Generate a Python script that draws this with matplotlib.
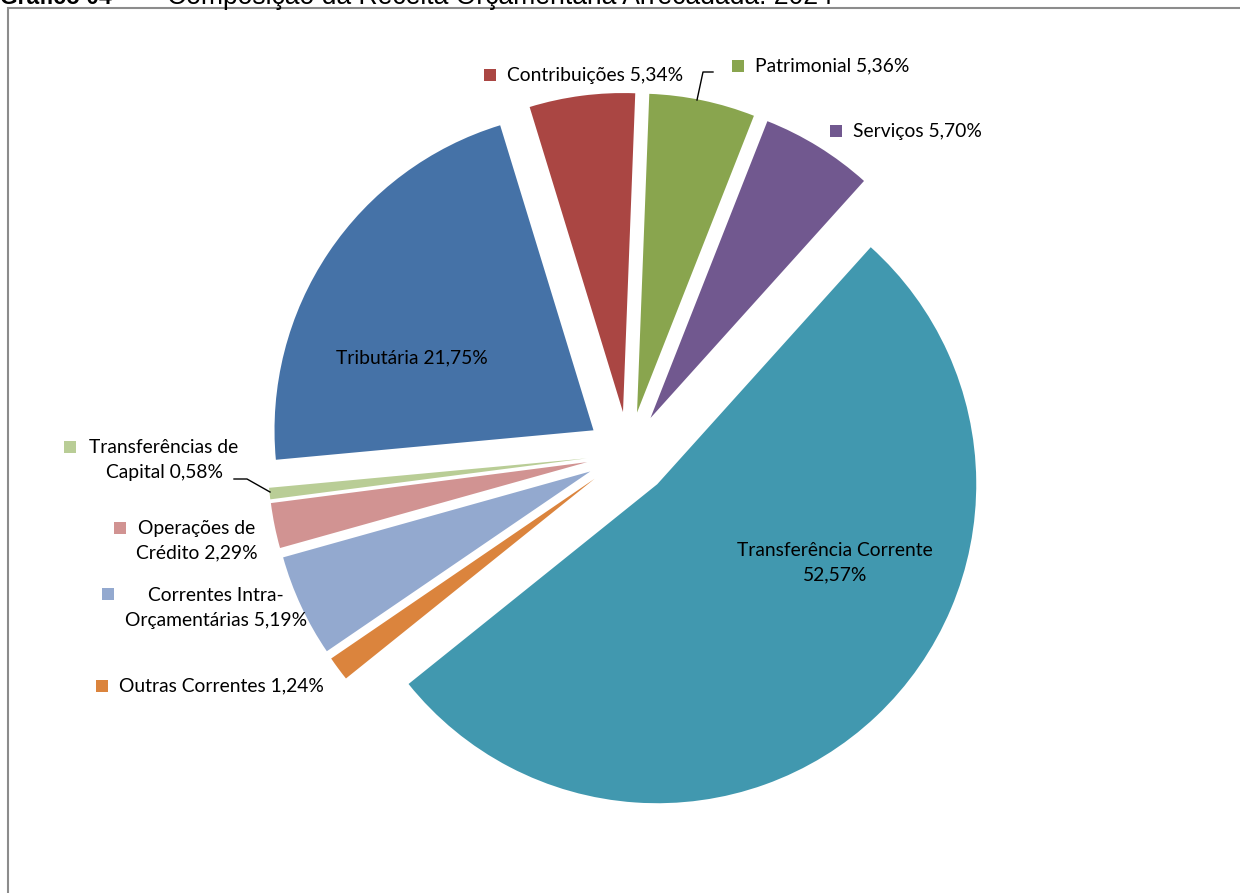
import matplotlib
matplotlib.use("Agg")
import matplotlib.pyplot as plt
from matplotlib.patches import Rectangle
from matplotlib.lines import Line2D

# ---------------- data ----------------
categories = ["Tributária", "Contribuições", "Patrimonial", "Serviços",
              "Transferência Corrente", "Outras Correntes",
              "Correntes Intra-\nOrçamentárias", "Operações de\nCrédito",
              "Transferências de\nCapital"]
values = [21.75, 5.34, 5.36, 5.70, 52.57, 1.24, 5.19, 2.29, 0.58]
colors = ["#4572A7", "#AA4643", "#89A54E", "#71588F", "#4198AF",
          "#DB843D", "#93A9CF", "#D19392", "#B9CD96"]
title_bold = "Gráfico 04 –"
title_rest = "Composição da Receita Orçamentária Arrecadada: 2024"

# ---------------- layout ----------------
W, H, DPI = 1240, 893, 100
CX, CY, R = 628.4, 453.7, 319.0      # pie centre / radius in pixels
EXPLODE = 42.0 / R
FONT = "Lato"
FS = 13.9
LS = 1.55

def P(x, y):
    """pixel (top-left origin) -> data coords (pie centre origin, radius 1)"""
    return ((x - CX) / R, (CY - y) / R)

fig = plt.figure(figsize=(W / DPI, H / DPI), dpi=DPI)
ax = fig.add_axes([0, 0, 1, 1])

wedges, _ = ax.pie(values, colors=colors, startangle=185.3, counterclock=False,
                   explode=[EXPLODE] * len(values), radius=1, center=(0, 0),
                   wedgeprops=dict(linewidth=0))
x0, y0 = P(0, H)
x1, y1 = P(W, 0)
ax.set_xlim(x0, x1)
ax.set_ylim(y0, y1)
ax.set_aspect("auto")
ax.axis("off")

def pct(v):
    return f"{v:.2f}".replace(".", ",") + "%"

def label(i, text_xy, ha="left", square_xy=None):
    txt = categories[i] + " " + pct(values[i])
    tx, ty = P(*text_xy)
    ax.text(tx, ty, txt, ha=ha, va="center", fontsize=FS, family=FONT,
            color="black", multialignment="center", linespacing=LS)
    if square_xy is not None:
        s = 12.0
        sx, sy = P(square_xy[0] - s / 2, square_xy[1] + s / 2)
        ax.add_patch(Rectangle((sx, sy), s / R, s / R, color=colors[i], lw=0))

# Tributária (inside)
ax.text(*P(412, 358), categories[0] + " " + pct(values[0]), ha="center", va="center",
        fontsize=FS, family=FONT)
# Transferência Corrente (inside, two lines)
ax.text(*P(835, 563), categories[4] + "\n" + pct(values[4]), ha="center", va="center",
        fontsize=FS, family=FONT, linespacing=LS)

label(1, (507, 75), square_xy=(490, 75))
label(2, (755, 66), square_xy=(738, 66))
label(3, (853, 131), square_xy=(836, 131))
label(5, (119, 686), square_xy=(102, 686))
label(6, (216, 608), ha="center", square_xy=(108, 594))
label(7, (197, 541), ha="center", square_xy=(120, 528))
label(8, (164, 460), ha="center", square_xy=(70, 447))

# leader lines
for pts in ([(697, 100), (703, 72), (713, 72)],
            [(234, 479), (247, 479), (270, 492)]):
    xs, ys = zip(*[P(*p) for p in pts])
    ax.add_line(Line2D(xs, ys, color="black", lw=1.0))

# frame (extends beyond right/bottom edges)
fx, fy = P(8, H + 20)
fx2, fy2 = P(W + 20, 8)
ax.add_patch(Rectangle((fx, fy), fx2 - fx, fy2 - fy, fill=False,
                       edgecolor="#8C8C8C", lw=1.5, clip_on=False))

# title, cut off at the top edge (as in the reference)
t1 = fig.text(0, 1 - 4.5 / H, title_bold, ha="left", va="baseline",
              fontsize=16.5, fontweight="bold", family="Liberation Sans")
t2 = fig.text(167 / W, 1 - 4.5 / H, title_rest, ha="left", va="baseline",
              fontsize=15, family="Liberation Sans")
r = fig.canvas.get_renderer()
w2 = t2.get_window_extent(r).width
t2.set_fontsize(15 * 668 / w2)

fig.savefig("out.png", dpi=DPI)
